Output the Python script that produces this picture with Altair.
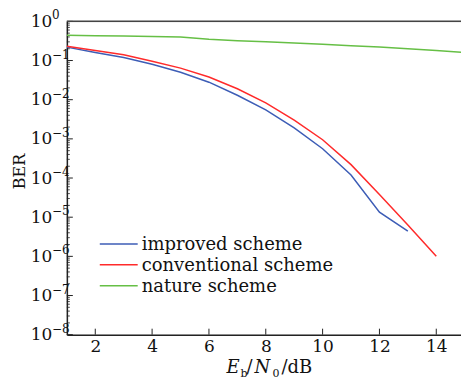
import altair as alt
import pandas as pd

# ---- data ----
snr = [1, 2, 3, 4, 5, 6, 7, 8, 9, 10, 11, 12, 13, 14, 15]
improved = [0.22, 0.16, 0.12, 0.08, 0.05, 0.028, 0.013, 0.0055, 0.0019, 5.6e-4, 1.2e-4, 1.35e-5, 4.4e-6]
conventional = [0.23, 0.18, 0.14, 0.096, 0.064, 0.038, 0.019, 0.0083, 0.003, 9.5e-4, 2.2e-4, 3.8e-5, 6.3e-6, 1.0e-6]
nature = [0.44, 0.43, 0.42, 0.41, 0.40, 0.35, 0.32, 0.30, 0.28, 0.26, 0.24, 0.22, 0.20, 0.18, 0.16]
series_names = ["improved scheme", "conventional scheme", "nature scheme"]
series_colors = ["#3d5db6", "#ff2b2b", "#66bf45"]
x_ticks = [2, 4, 6, 8, 10, 12, 14]
y_exps = [0, -1, -2, -3, -4, -5, -6, -7, -8]

W, H = 395, 314
FONT = "DejaVu Serif"

rows = []
for name, vals in zip(series_names, [improved, conventional, nature]):
    for x, v in zip(snr, vals):
        rows.append({"snr": x, "ber": v, "scheme": name})
df = pd.DataFrame(rows)

xscale = alt.Scale(domain=[1, 14.87], nice=False, zero=False)
yscale = alt.Scale(type="log", domain=[1e-8, 1], nice=False)
cscale = alt.Scale(domain=series_names, range=series_colors)

lines = alt.Chart(df).mark_line(strokeWidth=1.5, clip=True).encode(
    x=alt.X("snr:Q", scale=xscale,
            axis=alt.Axis(values=x_ticks, title=None, ticks=False, tickSize=0, grid=False,
                          labelFont=FONT, labelFontSize=17, labelColor="#111",
                          labelPadding=4, domainColor="#222", domainWidth=1.5)),
    y=alt.Y("ber:Q", scale=yscale,
            axis=alt.Axis(values=[10.0 ** e for e in y_exps], labelExpr="'10'",
                          ticks=False, tickSize=0, grid=False,
                          labelFont=FONT, labelFontSize=17, labelColor="#111",
                          labelPadding=15, domainColor="#222", domainWidth=1.5,
                          title="BER", titleFont=FONT, titleFontSize=16,
                          titleFontWeight="normal", titleColor="#111",
                          titleX=-47, titleY=150, titleBaseline="middle")),
    color=alt.Color("scheme:N", scale=cscale, legend=None),
)

# manual legend (one row per series)
leg_y = [223, 244, 265]
legend_layers = []
for name, yy in zip(series_names, leg_y):
    d = pd.DataFrame({"scheme": [name]})
    legend_layers.append(
        alt.Chart(d).mark_rule(strokeWidth=1.5).encode(
            x=alt.value(33), x2=alt.value(71), y=alt.value(yy),
            color=alt.Color("scheme:N", scale=cscale, legend=None)))
    legend_layers.append(
        alt.Chart(d).mark_text(align="left", baseline="middle", font=FONT, fontSize=18,
                               color="#111", dy=1).encode(
            x=alt.value(75), y=alt.value(yy), text="scheme:N"))

# exponent labels
exp_df = pd.DataFrame({"v": [10.0 ** e for e in y_exps],
                       "t": [str(e).replace("-", "\u2212") for e in y_exps]})
exps = alt.Chart(exp_df).mark_text(align="left", baseline="middle", dy=-6,
                                   font=FONT, fontSize=12, color="#111").encode(
    x=alt.value(-15), y=alt.Y("v:Q", scale=yscale), text="t:N")

# major y ticks (inward)
major_y = alt.Chart(exp_df).mark_rule(color="#222", strokeWidth=1).encode(
    y=alt.Y("v:Q", scale=yscale), x=alt.value(0), x2=alt.value(6))

# minor y ticks
minor_vals = [m * 10.0 ** e for e in range(-8, 0) for m in range(2, 10)]
minor_df = pd.DataFrame({"v": minor_vals})
minor_y = alt.Chart(minor_df).mark_rule(color="#222", strokeWidth=0.8).encode(
    y=alt.Y("v:Q", scale=yscale), x=alt.value(0), x2=alt.value(3))

# x ticks (inward)
xt_df = pd.DataFrame({"x": x_ticks})
major_x = alt.Chart(xt_df).mark_rule(color="#222", strokeWidth=1).encode(
    x=alt.X("x:Q", scale=xscale), y=alt.value(H), y2=alt.value(H - 6))

# top frame
top = alt.Chart(pd.DataFrame({"a": [0]})).mark_rule(color="#444", strokeWidth=1.5).encode(
    x=alt.value(0), x2=alt.value(W), y=alt.value(0))

# x title pieces
tpieces = pd.DataFrame({
    "t": ["E", "b", "/", "N", "0", "/dB"],
    "px": [160, 174, 180, 188, 206, 215],
    "py": [352, 356, 352, 352, 356, 352],
})
def piece(i, size, style):
    d = tpieces.iloc[[i]]
    return alt.Chart(d).mark_text(align="left", baseline="alphabetic", font=FONT,
                                  fontSize=size, fontStyle=style, color="#111").encode(
        x=alt.value(int(d.px.iloc[0])), y=alt.value(int(d.py.iloc[0])), text="t:N")

xtitle = (piece(0, 18, "italic") + piece(1, 11, "normal") + piece(2, 18, "normal") +
          piece(3, 18, "italic") + piece(4, 11, "normal") + piece(5, 18, "normal"))

chart = alt.layer(minor_y, major_y, major_x, top, lines, exps, xtitle, *legend_layers).properties(
    width=W, height=H,
    autosize=alt.AutoSizeParams(type="none"),
    padding={"left": 67, "top": 21, "right": 0, "bottom": 45},
).configure_view(stroke=None).configure(background="white")

chart.save("out.html", embed_options={"renderer": "svg", "actions": False})
